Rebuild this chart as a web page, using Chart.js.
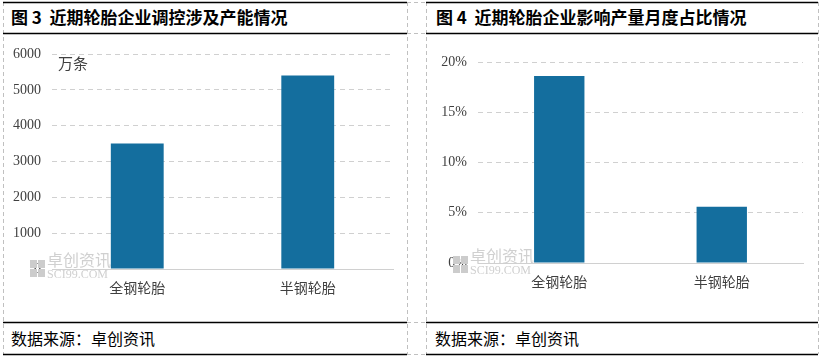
<!DOCTYPE html>
<html>
<head>
<meta charset="utf-8">
<script src="https://cdn.jsdelivr.net/npm/chart.js@4"></script>
<style>
  html, body { margin:0; padding:0; background:#fff; }
  body { width:821px; height:357px; position:relative; overflow:hidden; font-family:"Noto Sans CJK SC", sans-serif; }
  svg.frame { position:absolute; left:0; top:0; }
  .title { position:absolute; top:6px; font-size:17px; font-weight:bold; color:#000; line-height:22px; white-space:nowrap; }
  .foot { position:absolute; top:327px; font-size:16px; color:#000; line-height:22px; white-space:nowrap; }
  canvas { position:absolute; }
</style>
</head>
<body>
<svg class="frame" width="821" height="357">
  <g stroke="#c0c0c0" stroke-width="1" stroke-dasharray="4,3" fill="none">
    <line x1="3.5" y1="2" x2="3.5" y2="354"/>
    <line x1="407.5" y1="2" x2="407.5" y2="354"/>
    <line x1="426.5" y1="2" x2="426.5" y2="354"/>
    <line x1="818.5" y1="2" x2="818.5" y2="354"/>
    <line x1="407" y1="2.5" x2="426" y2="2.5"/>
    <line x1="407" y1="33.5" x2="426" y2="33.5"/>
    <line x1="407" y1="322.5" x2="426" y2="322.5"/>
    <line x1="407" y1="354.5" x2="426" y2="354.5"/>
  </g>
  <g stroke="#000" stroke-width="1.3">
    <line x1="3" y1="2.5" x2="407" y2="2.5"/>
    <line x1="3" y1="33.5" x2="407" y2="33.5"/>
    <line x1="3" y1="322.5" x2="407" y2="322.5"/>
    <line x1="3" y1="354.5" x2="407" y2="354.5"/>
    <line x1="426" y1="2.5" x2="818" y2="2.5"/>
    <line x1="426" y1="33.5" x2="818" y2="33.5"/>
    <line x1="426" y1="322.5" x2="818" y2="322.5"/>
    <line x1="426" y1="354.5" x2="818" y2="354.5"/>
  </g>
</svg>
<div class="title" style="left:11px;">图 3&nbsp;&nbsp;近期轮胎企业调控涉及产能情况</div>
<div class="title" style="left:436px;">图 4&nbsp;&nbsp;近期轮胎企业影响产量月度占比情况</div>
<div class="foot" style="left:11px;">数据来源：卓创资讯</div>
<div class="foot" style="left:435px;">数据来源：卓创资讯</div>
<canvas id="c1" width="403" height="287" style="left:4px; top:34px;"></canvas>
<canvas id="c2" width="391" height="287" style="left:427px; top:34px;"></canvas>
<script>
// ---- data ----
const categories = ["全钢轮胎", "半钢轮胎"];
const capacityValues = [3500, 5400];      // 万条
const capacityTicks = [0, 1000, 2000, 3000, 4000, 5000, 6000];
const shareValues = [18.6, 5.6];          // %
const shareTicks = [0, 5, 10, 15, 20];
const unitLabel = "万条";

const BAR_COLOR = "#146e9e";
const GRID = "#d0d0d0";
const TXT = "#404040";

function watermark(x, y) {
  return {
    id: "wm",
    beforeDatasetsDraw(chart) {
      const ctx = chart.ctx;
      ctx.save();
      ctx.fillStyle = "#cccccc";
      ctx.fillRect(x, y + 4, 7, 8);
      ctx.fillRect(x + 8, y + 4, 7, 8);
      ctx.fillRect(x, y + 13, 7, 8);
      ctx.fillRect(x + 8, y + 13, 7, 8);
      ctx.fillStyle = "#d0d0d0";
      ctx.font = "16px 'Noto Sans CJK SC'";
      ctx.textBaseline = "middle";
      ctx.textAlign = "left";
      ctx.fillText("卓创资讯", x + 17, y + 4);
      ctx.font = "12px 'Liberation Serif'";
      ctx.fillText("SCI99.COM", x + 17, y + 19);
      ctx.restore();
    }
  };
}

function makeChart(id, values, ticks, opts) {
  const cfg = {
    type: "bar",
    data: {
      labels: categories,
      datasets: [{
        data: values,
        backgroundColor: BAR_COLOR,
        borderWidth: 0,
        categoryPercentage: 1,
        barPercentage: 0.31
      }]
    },
    options: {
      responsive: false,
      animation: false,
      events: [],
      layout: { padding: { left: 0, right: opts.padRight, top: opts.padTop, bottom: 0 } },
      plugins: { legend: { display: false }, tooltip: { enabled: false } },
      scales: {
        x: {
          grid: { display: false, drawTicks: false },
          border: { display: true, color: GRID, width: 1 },
          ticks: { color: TXT, padding: 10, font: { family: "'Noto Sans CJK SC'", size: 14 } },
          afterFit(s) { s.height = opts.xHeight; }
        },
        y: {
          min: 0,
          max: ticks[ticks.length - 1],
          afterBuildTicks(s) { s.ticks = ticks.map(v => ({ value: v })); },
          grid: { color: GRID, lineWidth: 1, drawTicks: false },
          border: { display: false, dash: [5, 4] },
          ticks: {
            color: TXT, padding: 11,
            font: { family: "'Liberation Serif'", size: 14 },
            callback: opts.fmt
          },
          afterFit(s) { s.width = opts.yWidth; }
        }
      }
    },
    plugins: [watermark(opts.wmX, opts.wmY)]
  };
  if (opts.unit) {
    cfg.plugins.push({
      id: "unit",
      afterDraw(chart) {
        const ctx = chart.ctx;
        ctx.save();
        ctx.fillStyle = TXT;
        ctx.font = "15px 'Noto Sans CJK SC'";
        ctx.textBaseline = "middle";
        ctx.textAlign = "left";
        ctx.fillText(opts.unit, chart.chartArea.left + 6, chart.chartArea.top + 9);
        ctx.restore();
      }
    });
  }
  return new Chart(document.getElementById(id), cfg);
}

makeChart("c1", capacityValues, capacityTicks, {
  padRight: 14, padTop: 20, xHeight: 52, yWidth: 48,
  fmt: v => String(v), unit: unitLabel, wmX: 26, wmY: 222
});
makeChart("c2", shareValues, shareTicks, {
  padRight: 15, padTop: 28, xHeight: 58, yWidth: 51,
  fmt: v => v + "%", unit: null, wmX: 26, wmY: 218
});
</script>
</body>
</html>
